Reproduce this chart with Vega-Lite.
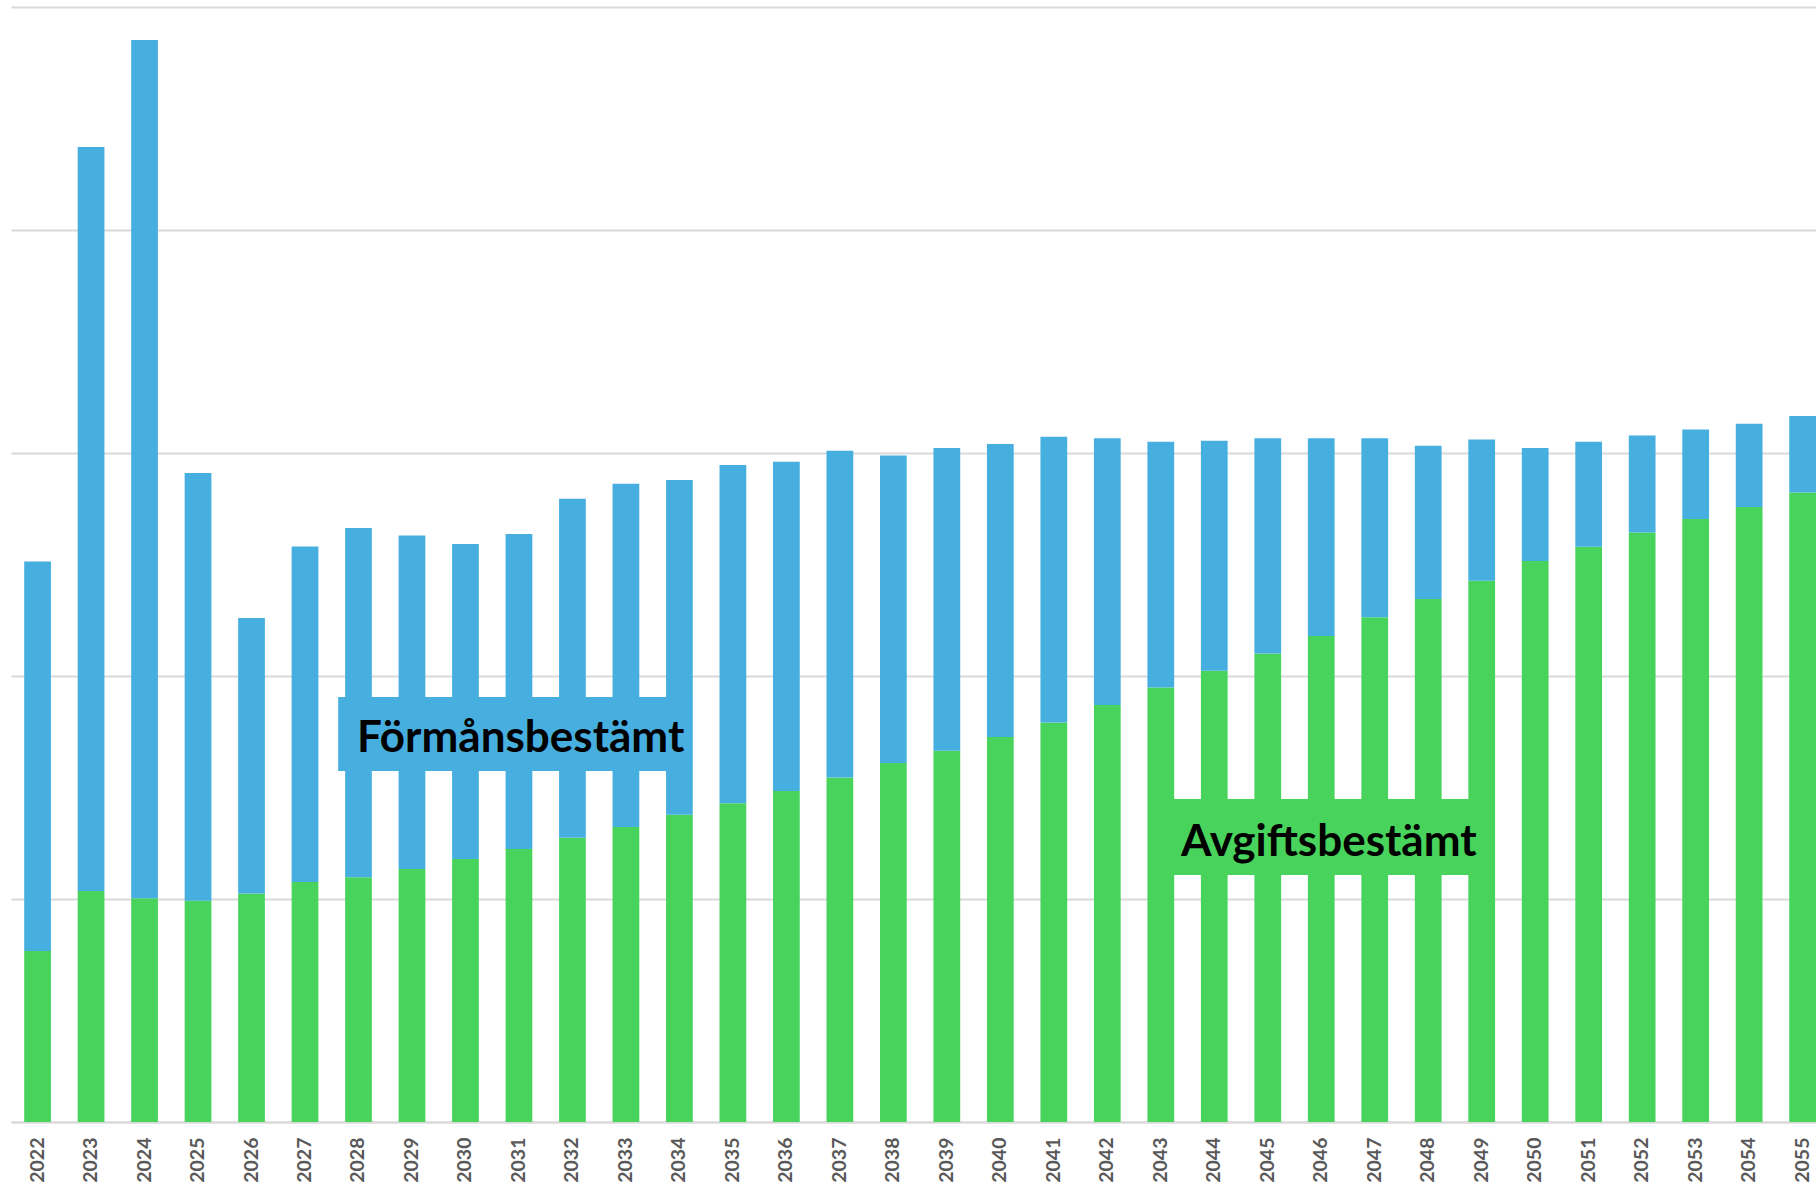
{
  "$schema": "https://vega.github.io/schema/vega-lite/v6.json",
  "autosize": "none",
  "width": 1805,
  "height": 1115,
  "padding": {"left": 11, "top": 7, "right": 0, "bottom": 65},
  "background": "#ffffff",
  "config": {"view": {"stroke": null}},
  "datasets": {
    "staplar": [
      {"ar": "2022", "typ": "Avgiftsbestämt", "varde": 76.7}, {"ar": "2022", "typ": "Förmånsbestämt", "varde": 174.7},
      {"ar": "2023", "typ": "Avgiftsbestämt", "varde": 103.6}, {"ar": "2023", "typ": "Förmånsbestämt", "varde": 333.6},
      {"ar": "2024", "typ": "Avgiftsbestämt", "varde": 100.3}, {"ar": "2024", "typ": "Förmånsbestämt", "varde": 384.9},
      {"ar": "2025", "typ": "Avgiftsbestämt", "varde": 99.2}, {"ar": "2025", "typ": "Förmånsbestämt", "varde": 191.8},
      {"ar": "2026", "typ": "Avgiftsbestämt", "varde": 102.5}, {"ar": "2026", "typ": "Förmånsbestämt", "varde": 123.5},
      {"ar": "2027", "typ": "Avgiftsbestämt", "varde": 107.6}, {"ar": "2027", "typ": "Förmånsbestämt", "varde": 150.5},
      {"ar": "2028", "typ": "Avgiftsbestämt", "varde": 109.7}, {"ar": "2028", "typ": "Förmånsbestämt", "varde": 156.7},
      {"ar": "2029", "typ": "Avgiftsbestämt", "varde": 113.5}, {"ar": "2029", "typ": "Förmånsbestämt", "varde": 149.5},
      {"ar": "2030", "typ": "Avgiftsbestämt", "varde": 117.9}, {"ar": "2030", "typ": "Förmånsbestämt", "varde": 141.3},
      {"ar": "2031", "typ": "Avgiftsbestämt", "varde": 122.4}, {"ar": "2031", "typ": "Förmånsbestämt", "varde": 141.3},
      {"ar": "2032", "typ": "Avgiftsbestämt", "varde": 127.5}, {"ar": "2032", "typ": "Förmånsbestämt", "varde": 152.0},
      {"ar": "2033", "typ": "Avgiftsbestämt", "varde": 132.3}, {"ar": "2033", "typ": "Förmånsbestämt", "varde": 153.9},
      {"ar": "2034", "typ": "Avgiftsbestämt", "varde": 137.8}, {"ar": "2034", "typ": "Förmånsbestämt", "varde": 150.1},
      {"ar": "2035", "typ": "Avgiftsbestämt", "varde": 142.9}, {"ar": "2035", "typ": "Förmånsbestämt", "varde": 151.7},
      {"ar": "2036", "typ": "Avgiftsbestämt", "varde": 148.4}, {"ar": "2036", "typ": "Förmånsbestämt", "varde": 147.7},
      {"ar": "2037", "typ": "Avgiftsbestämt", "varde": 154.5}, {"ar": "2037", "typ": "Förmånsbestämt", "varde": 146.5},
      {"ar": "2038", "typ": "Avgiftsbestämt", "varde": 161.0}, {"ar": "2038", "typ": "Förmånsbestämt", "varde": 137.9},
      {"ar": "2039", "typ": "Avgiftsbestämt", "varde": 166.5}, {"ar": "2039", "typ": "Förmånsbestämt", "varde": 135.7},
      {"ar": "2040", "typ": "Avgiftsbestämt", "varde": 172.6}, {"ar": "2040", "typ": "Förmånsbestämt", "varde": 131.4},
      {"ar": "2041", "typ": "Avgiftsbestämt", "varde": 179.2}, {"ar": "2041", "typ": "Förmånsbestämt", "varde": 128.1},
      {"ar": "2042", "typ": "Avgiftsbestämt", "varde": 187.0}, {"ar": "2042", "typ": "Förmånsbestämt", "varde": 119.6},
      {"ar": "2043", "typ": "Avgiftsbestämt", "varde": 194.8}, {"ar": "2043", "typ": "Förmånsbestämt", "varde": 110.3},
      {"ar": "2044", "typ": "Avgiftsbestämt", "varde": 202.4}, {"ar": "2044", "typ": "Förmånsbestämt", "varde": 103.1},
      {"ar": "2045", "typ": "Avgiftsbestämt", "varde": 210.1}, {"ar": "2045", "typ": "Förmånsbestämt", "varde": 96.5},
      {"ar": "2046", "typ": "Avgiftsbestämt", "varde": 217.9}, {"ar": "2046", "typ": "Förmånsbestämt", "varde": 88.7},
      {"ar": "2047", "typ": "Avgiftsbestämt", "varde": 226.3}, {"ar": "2047", "typ": "Förmånsbestämt", "varde": 80.3},
      {"ar": "2048", "typ": "Avgiftsbestämt", "varde": 234.5}, {"ar": "2048", "typ": "Förmånsbestämt", "varde": 68.8},
      {"ar": "2049", "typ": "Avgiftsbestämt", "varde": 242.7}, {"ar": "2049", "typ": "Förmånsbestämt", "varde": 63.3},
      {"ar": "2050", "typ": "Avgiftsbestämt", "varde": 251.6}, {"ar": "2050", "typ": "Förmånsbestämt", "varde": 50.6},
      {"ar": "2051", "typ": "Avgiftsbestämt", "varde": 258.0}, {"ar": "2051", "typ": "Förmånsbestämt", "varde": 47.1},
      {"ar": "2052", "typ": "Avgiftsbestämt", "varde": 264.3}, {"ar": "2052", "typ": "Förmånsbestämt", "varde": 43.5},
      {"ar": "2053", "typ": "Avgiftsbestämt", "varde": 270.4}, {"ar": "2053", "typ": "Förmånsbestämt", "varde": 40.1},
      {"ar": "2054", "typ": "Avgiftsbestämt", "varde": 275.8}, {"ar": "2054", "typ": "Förmånsbestämt", "varde": 37.3},
      {"ar": "2055", "typ": "Avgiftsbestämt", "varde": 282.3}, {"ar": "2055", "typ": "Förmånsbestämt", "varde": 34.3}
    ],
    "etiketter": [
      {"typ": "Förmånsbestämt", "xfran": 2027.62, "xtill": 2034.23, "xmitt": 2031.03, "yfran": 157.4, "ytill": 190.6, "ytext": 166.0},
      {"typ": "Avgiftsbestämt", "xfran": 2043.08, "xtill": 2049.06, "xmitt": 2046.14, "yfran": 110.8, "ytill": 144.8, "ytext": 119.2}
    ]
  },
  "layer": [
    {
      "data": {"name": "staplar"},
      "mark": {"type": "bar"},
      "encoding": {
        "x": {
          "field": "ar", "type": "ordinal",
          "scale": {"paddingInner": 0.5, "paddingOuter": 0.1234, "align": 1},
          "axis": {
            "title": null, "labelAngle": -90, "ticks": false, "domain": true,
            "domainColor": "#d9d9d9", "domainWidth": 2, "labelPadding": 15,
            "labelFont": "Lato", "labelFontWeight": "bold", "labelFontSize": 19.5,
            "labelColor": "#595959", "grid": false
          }
        },
        "y": {
          "field": "varde", "type": "quantitative", "stack": "zero",
          "scale": {"domain": [0, 500], "nice": false},
          "axis": {
            "title": null, "labels": false, "ticks": false, "domain": false,
            "grid": true, "gridColor": "#d9d9d9", "gridWidth": 2,
            "values": [0, 100, 200, 300, 400, 500]
          }
        },
        "color": {
          "field": "typ", "type": "nominal",
          "scale": {"domain": ["Avgiftsbestämt", "Förmånsbestämt"], "range": ["#48D45C", "#47AFE0"]},
          "legend": null
        },
        "order": {"field": "typ", "sort": "ascending"}
      }
    },
    {
      "data": {"name": "etiketter"},
      "layer": [
        {
          "mark": {"type": "rect"},
          "encoding": {
            "x": {"field": "xfran", "type": "quantitative", "scale": {"domain": [2021.5027, 2055.2498], "nice": false, "zero": false}, "axis": null},
            "x2": {"field": "xtill"},
            "y": {"field": "yfran", "type": "quantitative"},
            "y2": {"field": "ytill"},
            "color": {"field": "typ", "type": "nominal", "legend": null}
          }
        },
        {
          "mark": {"type": "text", "font": "Lato", "fontWeight": "bold", "fontSize": 44, "color": "#000000", "align": "center", "baseline": "alphabetic"},
          "encoding": {
            "x": {"field": "xmitt", "type": "quantitative", "scale": {"domain": [2021.5027, 2055.2498], "nice": false, "zero": false}, "axis": null},
            "y": {"field": "ytext", "type": "quantitative"},
            "text": {"field": "typ"}
          }
        }
      ]
    }
  ],
  "resolve": {"scale": {"x": "independent"}, "axis": {"x": "independent"}}
}
